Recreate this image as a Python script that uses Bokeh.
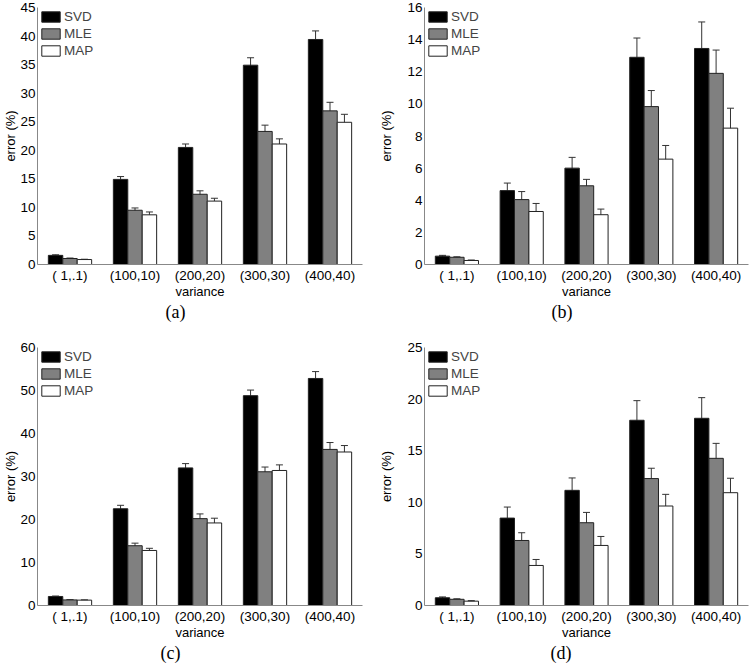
from bokeh.plotting import figure
from bokeh.layouts import gridplot
from bokeh.models import (ColumnDataSource, FactorRange, Range1d, FixedTicker,
                          Whisker, TeeHead, Title, Legend, LegendItem)
from bokeh.transform import dodge
from bokeh.embed import file_html
from bokeh.resources import INLINE

categories = ["( 1,.1)", "(100,10)", "(200,20)", "(300,30)", "(400,40)"]
series = ["SVD", "MLE", "MAP"]
colors = ["#000000", "#808080", "#ffffff"]

# panel (a)
a_svd = [1.6, 14.9, 20.5, 34.9, 39.4]
a_svd_err = [0.1, 0.5, 0.6, 1.3, 1.5]
a_mle = [1.05, 9.5, 12.3, 23.3, 26.9]
a_mle_err = [0.08, 0.4, 0.6, 1.1, 1.5]
a_map = [0.87, 8.7, 11.1, 21.1, 24.9]
a_map_err = [0.05, 0.5, 0.5, 0.9, 1.4]
a_yticks = [0, 5, 10, 15, 20, 25, 30, 35, 40, 45]

# panel (b)
b_svd = [0.52, 4.6, 6.0, 12.9, 13.45]
b_svd_err = [0.05, 0.47, 0.67, 1.2, 1.65]
b_mle = [0.45, 4.04, 4.9, 9.83, 11.9]
b_mle_err = [0.03, 0.5, 0.4, 1.0, 1.45]
b_map = [0.25, 3.3, 3.1, 6.56, 8.49]
b_map_err = [0.03, 0.5, 0.35, 0.85, 1.24]
b_yticks = [0, 2, 4, 6, 8, 10, 12, 14, 16]

# panel (c)
c_svd = [2.1, 22.5, 32.0, 48.8, 52.8]
c_svd_err = [0.1, 0.8, 1.0, 1.3, 1.6]
c_mle = [1.3, 13.9, 20.2, 31.1, 36.3]
c_mle_err = [0.05, 0.6, 1.1, 1.1, 1.6]
c_map = [1.25, 12.8, 19.2, 31.4, 35.7]
c_map_err = [0.05, 0.5, 1.1, 1.3, 1.5]
c_yticks = [0, 10, 20, 30, 40, 50, 60]

# panel (d)
d_svd = [0.75, 8.47, 11.16, 17.95, 18.14]
d_svd_err = [0.08, 1.07, 1.2, 1.9, 2.0]
d_mle = [0.6, 6.3, 8.02, 12.3, 14.26]
d_mle_err = [0.05, 0.75, 1.0, 1.0, 1.45]
d_map = [0.42, 3.88, 5.82, 9.64, 10.93]
d_map_err = [0.05, 0.58, 0.87, 1.13, 1.4]
d_yticks = [0, 5, 10, 15, 20, 25]

SANS = "Liberation Sans"
SERIF = "Liberation Serif"
BAR_W = 0.222
OFFSETS = [-BAR_W, 0.0, BAR_W]


def panel(vals, errs, yticks, tag, width, height, bl, br, bt, bb, toff, ylab_off):
    p = figure(x_range=FactorRange(factors=categories, range_padding=0),
               y_range=Range1d(yticks[0], yticks[-1]),
               width=width, height=height, output_backend="svg",
               toolbar_location=None,
               min_border_left=bl, min_border_right=br,
               min_border_top=bt, min_border_bottom=bb)
    data = {"cat": categories}
    for s, v, e in zip(series, vals, errs):
        data[s] = v
        data[s + "_lo"] = [a - b for a, b in zip(v, e)]
        data[s + "_hi"] = [a + b for a, b in zip(v, e)]
    src = ColumnDataSource(data)
    items = []
    for s, c, off in zip(series, colors, OFFSETS):
        r = p.vbar(x=dodge("cat", off, range=p.x_range), top=s, width=BAR_W,
                   bottom=0, source=src, fill_color=c, line_color="#222222",
                   line_width=1)
        items.append(LegendItem(label=s, renderers=[r]))
    for s, off in zip(series, OFFSETS):
        w = Whisker(source=src, base=dodge("cat", off, range=p.x_range),
                    upper=s + "_hi", lower=s + "_lo",
                    line_color="#333333", line_width=1,
                    upper_head=TeeHead(size=7, line_color="#333333", line_width=1),
                    lower_head=TeeHead(size=7, line_color="#333333", line_width=1))
        p.add_layout(w)
    leg = Legend(items=items, location="top_left", border_line_color=None,
                 background_fill_alpha=0, label_text_font=SANS,
                 label_text_font_size="13.5px", glyph_width=23, glyph_height=13,
                 label_height=13, spacing=2, padding=4, margin=2,
                 label_standoff=2)
    p.add_layout(leg)

    p.yaxis.ticker = FixedTicker(ticks=yticks)
    for ax in (p.xaxis[0], p.yaxis[0]):
        ax.axis_line_color = "#888888"
        ax.axis_line_width = 1
        ax.major_tick_line_color = None
        ax.minor_tick_line_color = None
        ax.major_tick_in = 0
        ax.major_tick_out = 0
        ax.minor_tick_in = 0
        ax.minor_tick_out = 0
        ax.major_label_text_font = SANS
        ax.major_label_text_font_size = "13.5px"
        ax.major_label_text_color = "black"
        ax.axis_label_text_font = SANS
        ax.axis_label_text_font_size = "13px"
        ax.axis_label_text_font_style = "normal"
        ax.axis_label_text_color = "black"
    p.yaxis.axis_label = "error (%)"
    p.yaxis.major_label_standoff = 2
    p.yaxis.axis_label_standoff = ylab_off
    p.xaxis.axis_label = "variance"
    p.xaxis.major_label_standoff = 3
    p.xaxis.axis_label_standoff = -2
    p.xgrid.visible = False
    p.ygrid.visible = False
    p.outline_line_color = None
    p.add_layout(Title(text=tag, align="left", offset=toff, text_font=SERIF,
                       text_font_size="18px", text_font_style="normal",
                       text_color="black", standoff=0, vertical_align="top"),
                 "below")
    return p


pa = panel([a_svd, a_mle, a_map], [a_svd_err, a_mle_err, a_map_err], a_yticks,
           "(a)", 376, 340, 33, 14, 7, 76, 128, -1)
pb = panel([b_svd, b_mle, b_map], [b_svd_err, b_mle_err, b_map_err], b_yticks,
           "(b)", 374, 340, 43, 2, 7, 76, 127, 10)
pc = panel([c_svd, c_mle, c_map], [c_svd_err, c_mle_err, c_map_err], c_yticks,
           "(c)", 376, 325, 33, 14, 7, 60, 123, -1)
pd = panel([d_svd, d_mle, d_map], [d_svd_err, d_mle_err, d_map_err], d_yticks,
           "(d)", 374, 325, 43, 2, 7, 60, 126, 10)

grid = gridplot([[pa, pb], [pc, pd]], toolbar_location=None)

open("out.html", "w").write(file_html(grid, INLINE))
